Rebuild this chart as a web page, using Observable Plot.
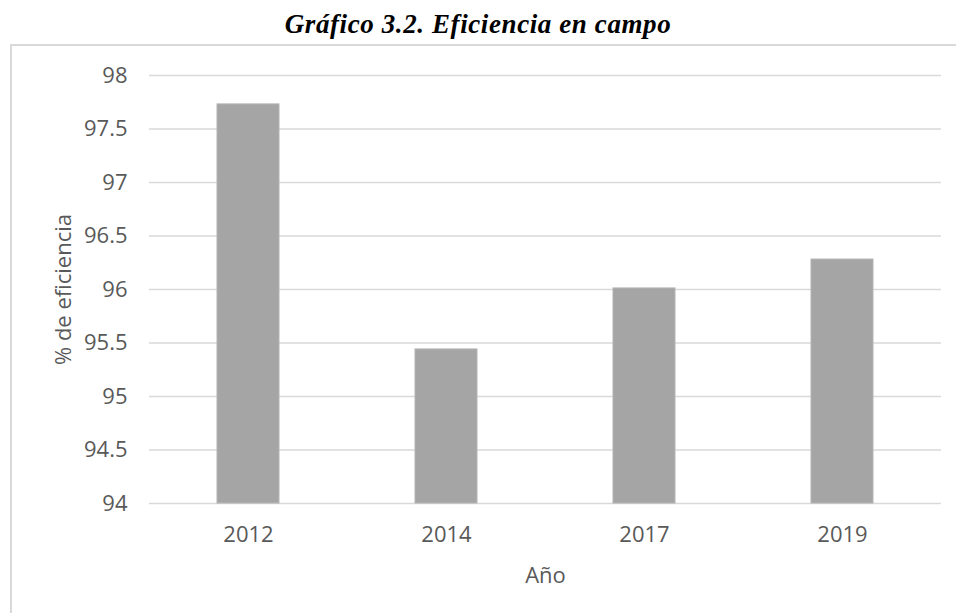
<!DOCTYPE html>
<html>
<head>
<meta charset="utf-8">
<script src="https://cdn.jsdelivr.net/npm/d3@7"></script>
<script src="https://cdn.jsdelivr.net/npm/@observablehq/plot@0.6"></script>
<style>
  html, body { margin: 0; padding: 0; background: #fff; width: 956px; height: 613px; overflow: hidden; }
  #title { position: absolute; left: 0; top: 7px; width: 956px; text-align: center;
           font-family: "Liberation Serif", "Times New Roman", serif; font-weight: bold; font-style: italic;
           font-size: 27px; letter-spacing: 0.6px; color: #000; line-height: 34px; }
  #box { position: absolute; left: 10px; top: 44px; width: 960px; height: 600px;
         border-left: 2px solid #d9d9d9; border-top: 2px solid #d9d9d9; }
  #chart { position: absolute; left: 0; top: 0; }
</style>
</head>
<body>
<div id="title">Gráfico 3.2. Eficiencia en campo</div>
<div id="box"><div id="chart"></div></div>
<script>
const years = ["2012", "2014", "2017", "2019"];
const efficiency = [97.73, 95.44, 96.01, 96.28];
const yTicks = [94, 94.5, 95, 95.5, 96, 96.5, 97, 97.5, 98];
const xLabel = "Año";
const yLabel = "% de eficiencia";

const data = years.map((y, i) => ({year: y, value: efficiency[i]}));

const chart = Plot.plot({
  width: 944,
  height: 567,
  marginLeft: 137,
  marginRight: 15,
  marginTop: 29,
  marginBottom: 110,
  style: {fontFamily: "'Open Sans', sans-serif", fontSize: "22px", color: "#595959", background: "transparent"},
  x: {domain: years, paddingInner: 0.687, paddingOuter: 0.3435, label: null},
  y: {domain: [94, 98], label: null},
  marks: [
    Plot.ruleY(yTicks, {stroke: "#d9d9d9", strokeWidth: 1.5}),
    Plot.barY(data, {x: "year", y1: () => 94, y2: "value", fill: "#a5a5a5", stroke: "#b4b4b4", strokeWidth: 1}),
    Plot.axisY({ticks: yTicks, tickSize: 0, tickPadding: 22, tickFormat: d => String(d), label: null, fill: "#595959", fontSize: 22}),
    Plot.axisX({tickSize: 0, tickPadding: 23, label: null, fill: "#595959", fontSize: 22}),
    Plot.text([xLabel], {frameAnchor: "bottom", dy: 72, text: d => d, fill: "#595959", fontSize: 22, lineAnchor: "middle", textAnchor: "middle"}),
    Plot.text([yLabel], {frameAnchor: "left", dx: -86, rotate: -90, text: d => d, fill: "#595959", fontSize: 22, lineAnchor: "middle", textAnchor: "middle"})
  ]
});
document.getElementById("chart").appendChild(chart);
</script>
</body>
</html>
